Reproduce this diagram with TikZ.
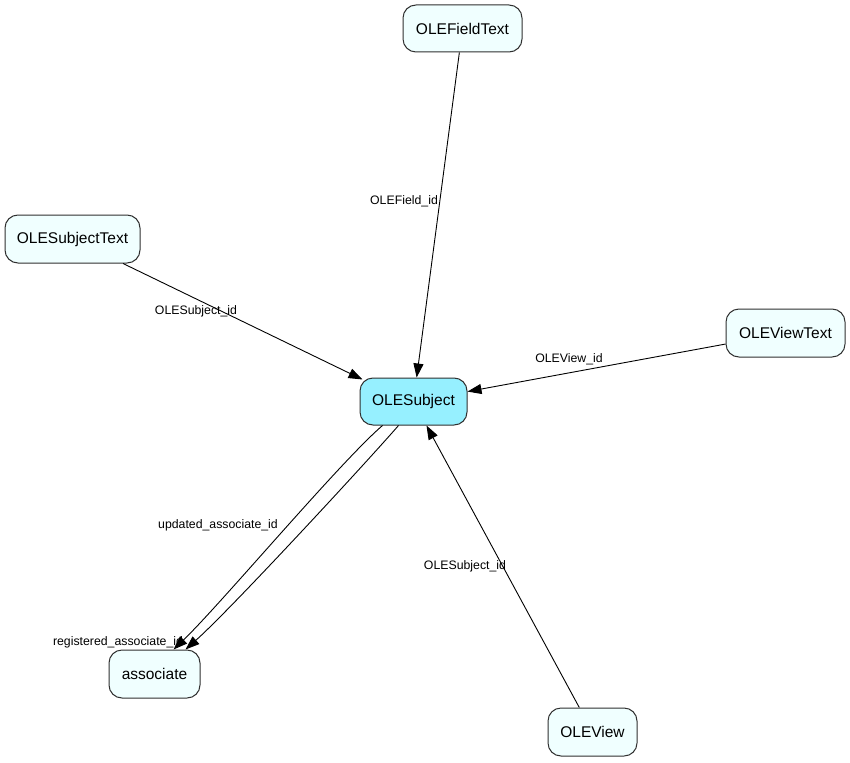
\documentclass[tikz,border=0pt]{standalone}
\usepackage{fontspec}
\setmainfont{Liberation Sans}
\usetikzlibrary{arrows.meta}
\definecolor{nodefill}{HTML}{F0FFFF}
\definecolor{mainfill}{HTML}{96F0FF}
\definecolor{nodeborder}{HTML}{303030}
\begin{document}
\begin{tikzpicture}[x=1pt,y=-1pt,
  tbl/.style={draw=nodeborder, line width=1pt, fill=nodefill, rounded corners=13pt,
    inner sep=0pt, font=\fontsize{15.5}{17}\selectfont},
  lbl/.style={inner sep=0pt, font=\fontsize{12.3}{13}\selectfont},
  fk/.style={draw=black, line width=0.9pt, -{Triangle[length=14pt,width=10pt]}}]
\useasboundingbox[fill=white] (0,0) rectangle (850,762);
\node[tbl, minimum width=119pt, minimum height=47pt] (fieldtext) at (462.5,28.5) {OLEFieldText};
\node[tbl, minimum width=135pt, minimum height=48pt] (subjtext) at (72.5,239) {OLESubjectText};
\node[tbl, minimum width=119pt, minimum height=48pt] (viewtext) at (785.5,333) {OLEViewText};
\node[tbl, fill=mainfill, minimum width=107pt, minimum height=47pt] (subj) at (413.5,401.5) {OLESubject};
\node[tbl, minimum width=91pt, minimum height=48pt] (assoc) at (154.5,674) {associate};
\node[tbl, minimum width=89pt, minimum height=48pt] (view) at (592.5,732) {OLEView};

\draw[fk] (fieldtext) -- (subj);
\draw[fk] (subjtext) -- ([xshift=3pt,yshift=-2pt]subj.north west);
\draw[fk] (viewtext) -- (subj);
\draw[fk] (view) -- (subj);
\draw[fk] ([xshift=-31pt]subj.south) .. controls (340,462) and (220,605) .. ([xshift=19pt]assoc.north);
\draw[fk] ([xshift=-15pt]subj.south) .. controls (365,464) and (230,610) .. ([xshift=31pt]assoc.north);

\node[lbl] (l1) at (404,201) {OLEField\_id};
\node[lbl] (l2) at (196,311) {OLESubject\_id};
\node[lbl] (l3) at (569,359) {OLEView\_id};
\node[lbl] (l4) at (465,566) {OLESubject\_id};
\node[lbl] (l5) at (218,525) {updated\_associate\_id};
\node[lbl] (l6) at (118,642) {registered\_associate\_id};
\end{tikzpicture}
\end{document}
